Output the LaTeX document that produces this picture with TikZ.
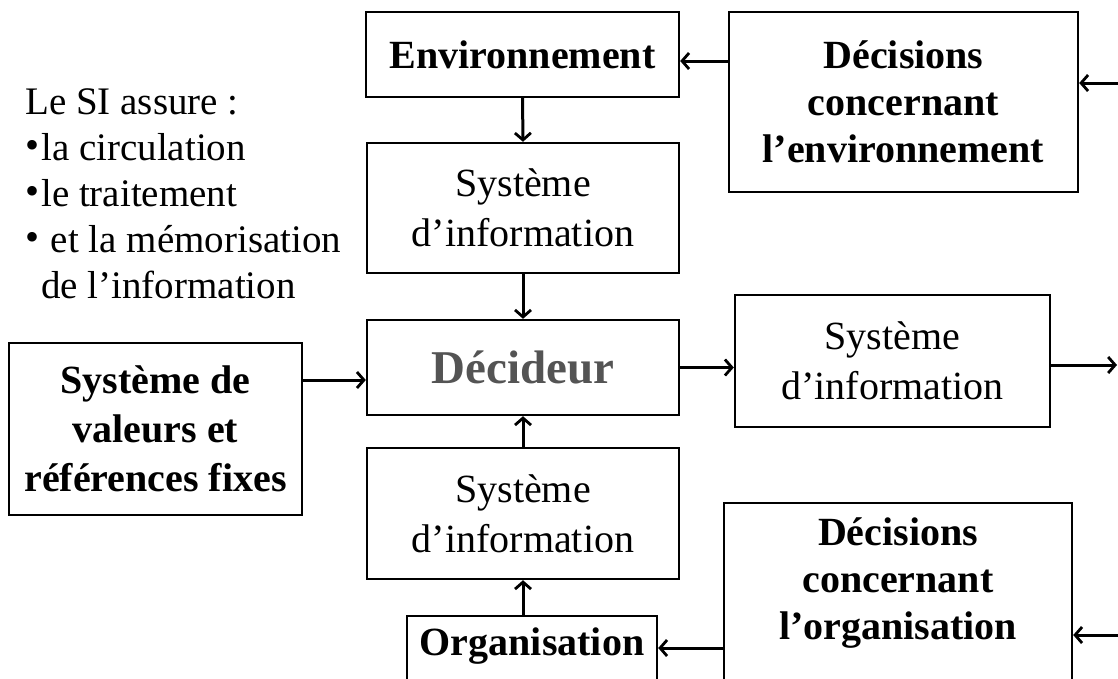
\documentclass[tikz,border=0pt]{standalone}
\usepackage{fontspec}
\setmainfont{Liberation Serif}
\usetikzlibrary{arrows.meta}
\newcommand{\smallbul}{{\fontsize{40}{40}\selectfont\raisebox{0.1ex}{•}}\hspace{2pt}}
\begin{document}
\begin{tikzpicture}[x=1pt,y=-1pt,
  box/.style={draw,line width=2.4pt,rectangle,inner sep=0pt,align=center},
  boldtxt/.style={font=\fontsize{40}{47}\selectfont\bfseries},
  plaintxt/.style={font=\fontsize{40}{50}\selectfont},
  arr/.style={line width=3pt,-{Straight Barb[length=7pt,width=16pt,line width=2.8pt]}}]
\useasboundingbox (0,0) rectangle (1118,678);
\clip (0,0) rectangle (1118,678);

% central column
\node[box,boldtxt,minimum width=313pt,minimum height=85pt] (env) at (522.5,54.5) {Environnement};
\node[box,plaintxt,minimum width=312pt,minimum height=130pt] (si1) at (523,208) {Système\\d’information};
\node[box,minimum width=312pt,minimum height=95pt,text=black!67,
      font=\fontsize{47}{50}\selectfont\bfseries] (dec) at (523,367.5) {Décideur};
\node[box,plaintxt,minimum width=312pt,minimum height=131pt] (si2) at (523,513.5) {Système\\d’information};
\node[box,minimum width=250pt,minimum height=88pt,
      label={[anchor=north,boldtxt,yshift=-9pt]north:Organisation}] (org) at (532,660) {};

% side boxes
\node[box,boldtxt,minimum width=293pt,minimum height=172pt,font=\fontsize{40}{49}\selectfont\bfseries] (val) at (155.5,429) {Système de\\valeurs et\\références fixes};
\node[box,plaintxt,minimum width=315pt,minimum height=132pt] (sir) at (892.5,361) {Système\\d’information};
\node[box,boldtxt,minimum width=349pt,minimum height=180pt] (denv) at (903.5,102) {Décisions\\concernant\\l’environnement};
\node[box,minimum width=348pt,minimum height=217pt,
      label={[anchor=north,boldtxt,align=center,yshift=-12pt]north:Décisions\\concernant\\l’organisation}] (dorg) at (898,611.5) {};

% caption text
\node[anchor=north west,align=left,inner sep=0pt,font=\fontsize{39}{46}\selectfont] (txt) at (25,88)
  {Le SI assure :\\\smallbul la circulation\\\smallbul le traitement\\\smallbul\ et la mémorisation\\\hspace*{16pt}de l’information};

% connector levels
\coordinate (yval) at (0,380);
\coordinate (ysir) at (0,365);
\coordinate (yenv) at (0,61);
\coordinate (yin1) at (0,83);
\coordinate (yorg) at (0,648);
\coordinate (yin2) at (0,635);
\coordinate (out1) at (1117,365);
\coordinate (in1) at (1120,83);
\coordinate (in2) at (1120,635);

% connectors
\draw[arr] (env.south) -- (si1.north);
\draw[arr] (si1.south) -- (dec.north);
\draw[arr] (si2.north) -- (dec.south);
\draw[arr] (si2.south |- org.north) -- (si2.south);
\draw[arr] (val.east |- yval) -- (dec.west |- yval);
\draw[arr] (dec.east) -- (dec.east -| sir.west);
\draw[arr] (sir.east |- ysir) -- (out1);
\draw[arr] (denv.west |- yenv) -- (env.east |- yenv);
\draw[arr] (in1) -- (denv.east |- yin1);
\draw[arr] (dorg.west |- yorg) -- (org.east |- yorg);
\draw[arr] (in2) -- (dorg.east |- yin2);
\end{tikzpicture}
\end{document}
